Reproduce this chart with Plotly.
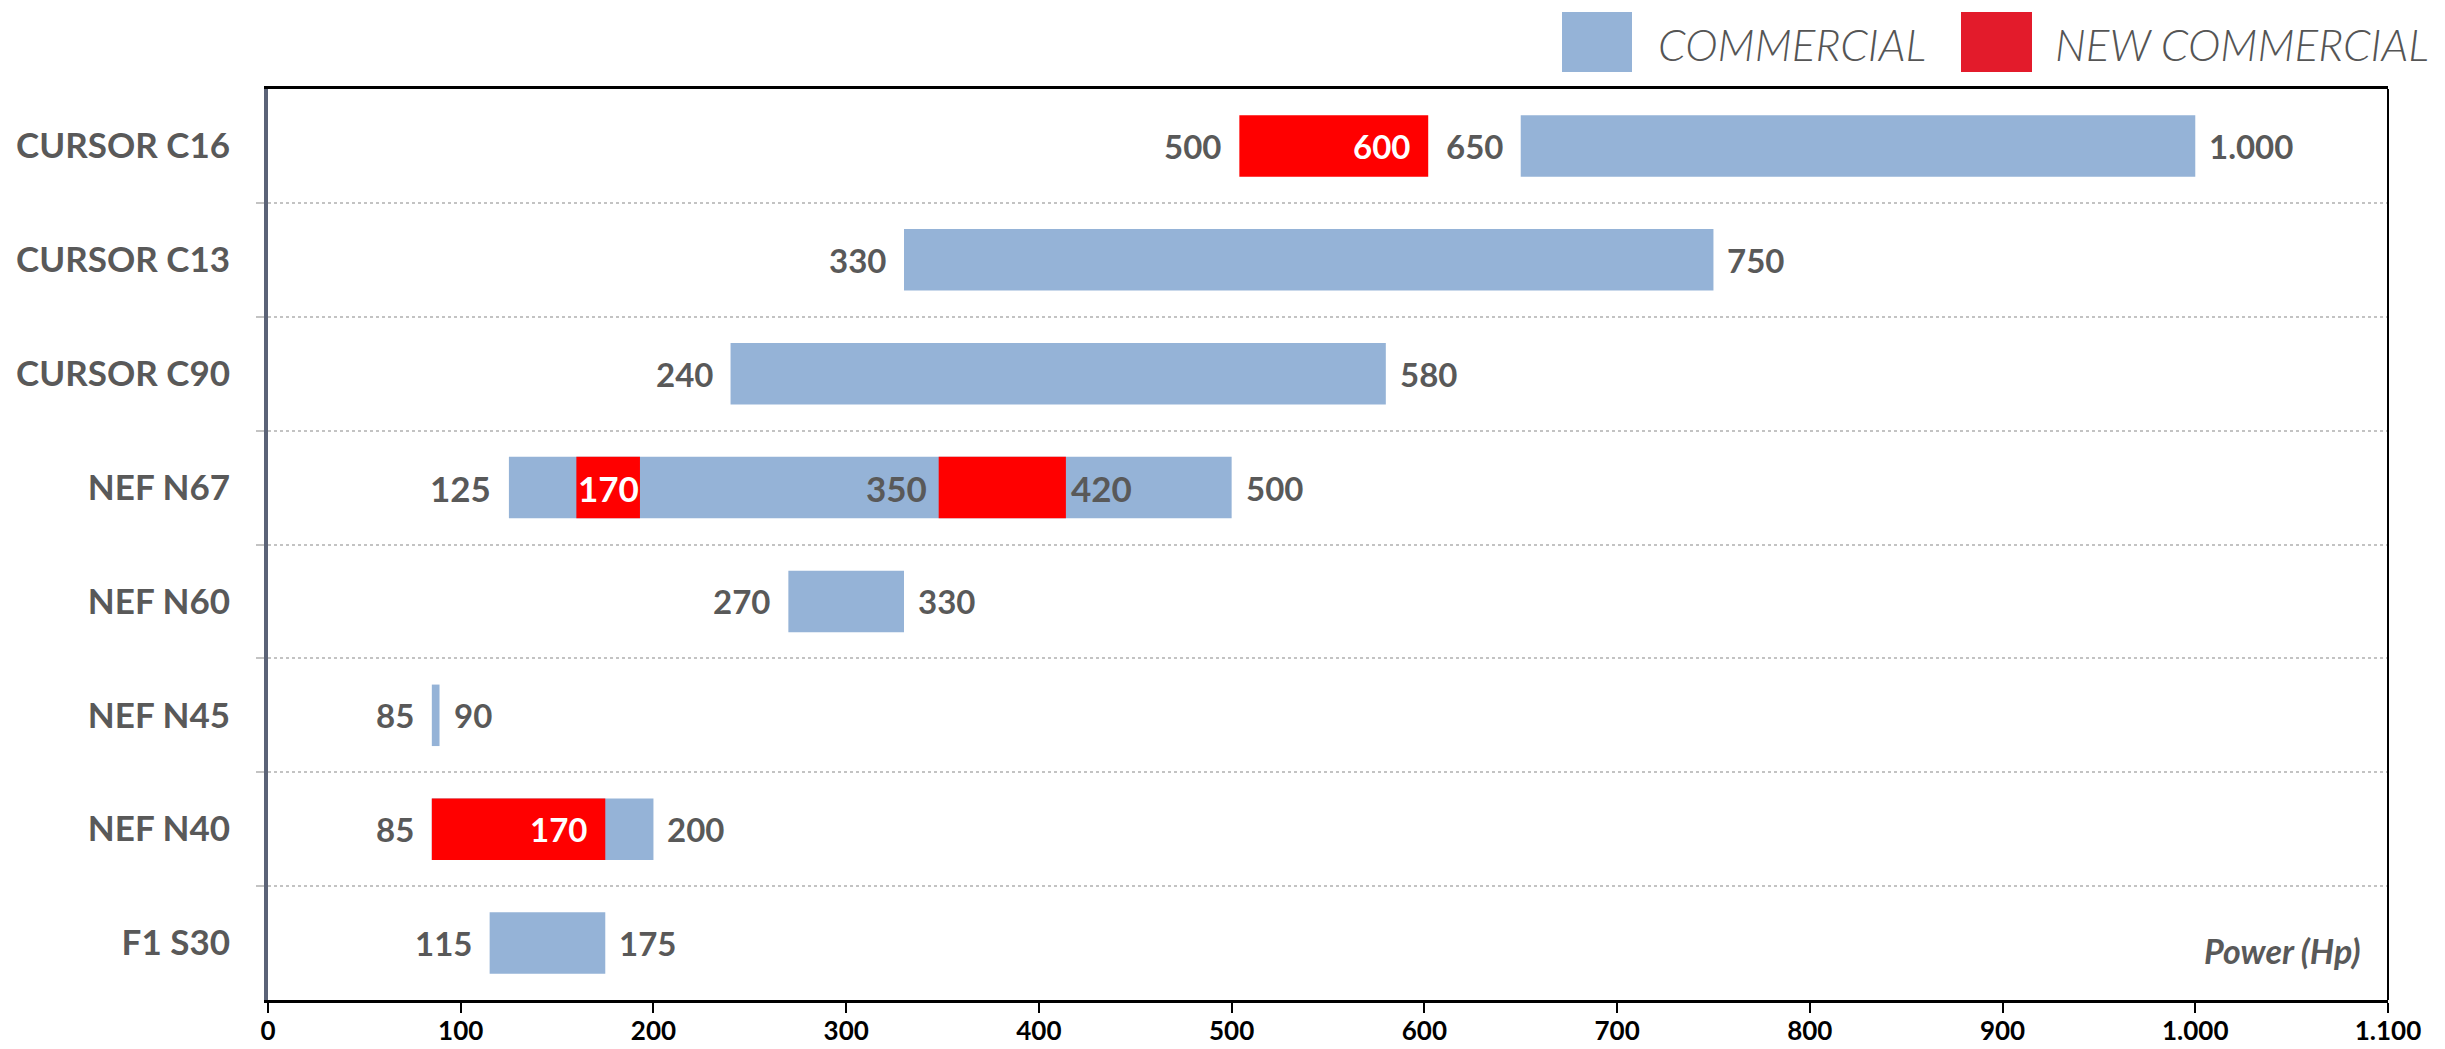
import plotly.graph_objects as go

# ---------------- data ----------------
categories = ["CURSOR C16", "CURSOR C13", "CURSOR C90", "NEF N67",
              "NEF N60", "NEF N45", "NEF N40", "F1 S30"]

# COMMERCIAL ranges (Hp)
com_cat = ["CURSOR C16", "CURSOR C13", "CURSOR C90", "NEF N67",
           "NEF N60", "NEF N45", "NEF N40", "F1 S30"]
com_start = [650, 330, 240, 125, 270, 85, 85, 115]
com_end = [1000, 750, 580, 500, 330, 89, 200, 175]

# NEW COMMERCIAL ranges (Hp)
new_cat = ["CURSOR C16", "NEF N67", "NEF N67", "NEF N40"]
new_start = [504, 160, 348, 85]
new_end = [602, 193, 414, 175]

# value labels
label_cat = ["CURSOR C16", "CURSOR C16", "CURSOR C16", "CURSOR C16",
             "CURSOR C13", "CURSOR C13",
             "CURSOR C90", "CURSOR C90",
             "NEF N67", "NEF N67", "NEF N67", "NEF N67", "NEF N67",
             "NEF N60", "NEF N60",
             "NEF N45", "NEF N45",
             "NEF N40", "NEF N40", "NEF N40",
             "F1 S30", "F1 S30"]
label_val = [504, 602, 650, 1000,
             330, 750,
             240, 580,
             125, 176.5, 348, 414, 500,
             270, 330,
             85, 89,
             85, 175, 200,
             115, 175]
label_txt = ["500", "600", "650", "1.000",
             "330", "750",
             "240", "580",
             "125", "170", "350", "420", "500",
             "270", "330",
             "85", "90",
             "85", "170", "200",
             "115", "175"]
label_side = ["L", "IN", "L", "R",
              "L", "R",
              "L", "R",
              "L", "C", "L", "R", "R",
              "L", "R",
              "L", "R",
              "L", "IN", "R",
              "L", "R"]

x_ticks = list(range(0, 1101, 100))
axis_title = "Power (Hp)"
legend_names = ["COMMERCIAL", "NEW COMMERCIAL"]

# ---------------- styling ----------------
BLUE = "#95b3d7"
RED = "#ff0000"
LEG_RED = "#e31b2b"
GRAY = "#595959"
FONT = "Lato, sans-serif"

# page offset of the figure div (default body margin)
OFF = 8
W, H = 2445 - OFF, 1049 - OFF
# desired plot area in page pixels: x 268..2388, y 89..1000
L, R, T, B = 268 - OFF, 2445 - 2388, 89 - OFF, 1049 - 1000
PW, PH = W - L - R, H - T - B

def px_x(px):
    return (px - OFF - L) / PW

def px_y(py):
    return (H - B - (py - OFF)) / PH

idx = {c: i for i, c in enumerate(categories)}

fig = go.Figure()
fig.add_trace(go.Bar(
    name=legend_names[0], orientation="h",
    y=[idx[c] for c in com_cat],
    x=[e - s for s, e in zip(com_start, com_end)],
    base=com_start, width=0.54,
    marker=dict(color=BLUE, line=dict(width=0)),
    hoverinfo="skip", showlegend=False,
))
fig.add_trace(go.Bar(
    name=legend_names[1], orientation="h",
    y=[idx[c] for c in new_cat],
    x=[e - s for s, e in zip(new_start, new_end)],
    base=new_start, width=0.54,
    marker=dict(color=RED, line=dict(width=0)),
    hoverinfo="skip", showlegend=False,
))

annotations = []
for c, v, t, s in zip(label_cat, label_val, label_txt, label_side):
    big = (c == "NEF N67" and t != "500")
    size = 35 if big else 33
    if s == "L":
        xa, xs, col = "right", (-10 if (big and t == "350") else -16), GRAY
    elif s == "R":
        xa, xs, col = "left", (3 if (big and t == "420") else 12), GRAY
    elif s == "IN":
        xa, xs, col = "right", -16, "#ffffff"
    else:
        xa, xs, col = "center", 0, "#ffffff"
    annotations.append(dict(
        x=v, y=idx[c], xref="x", yref="y", text="<b>%s</b>" % t,
        showarrow=False, xanchor=xa, yanchor="middle", xshift=xs,
        font=dict(family=FONT, size=size, color=col),
    ))

# axis title inside plot
annotations.append(dict(
    x=px_x(2362), y=px_y(950), xref="paper", yref="paper",
    text="<b><i>%s</i></b>" % axis_title, showarrow=False,
    xanchor="right", yanchor="middle",
    font=dict(family=FONT, size=34, color=GRAY),
))

# legend (manual)
shapes = []
leg = [(1562, 1632, 1656, BLUE, legend_names[0]),
       (1961, 2032, 2053, LEG_RED, legend_names[1])]
for x0, x1, tx, col, name in leg:
    shapes.append(dict(type="rect", xref="paper", yref="paper",
                       x0=px_x(x0), x1=px_x(x1), y0=px_y(72), y1=px_y(12),
                       fillcolor=col, line=dict(width=0)))
    annotations.append(dict(
        x=px_x(tx), y=px_y(44), xref="paper", yref="paper",
        text="<i>%s</i>" % name, showarrow=False,
        xanchor="left", yanchor="middle",
        font=dict(family=FONT, size=44, color="#555555", weight=300),
    ))

# right frame line
shapes.append(dict(type="line", xref="paper", yref="paper",
                   x0=1, x1=1, y0=0, y1=1,
                   line=dict(color="#000000", width=2)))

fig.update_layout(
    width=W, height=H,
    margin=dict(l=L, r=R, t=T, b=B, pad=0, autoexpand=False),
    paper_bgcolor="white", plot_bgcolor="white",
    barmode="overlay", separators=",.",
    showlegend=False,
    annotations=annotations, shapes=shapes,
)
fig.update_xaxes(
    automargin=False,
    range=[0, 1100], tickvals=x_ticks, tickformat=",d",
    showgrid=False, zeroline=False,
    showline=True, linecolor="#000000", linewidth=3, mirror=True,
    ticks="outside", ticklen=10, tickwidth=2, tickcolor="#000000",
    tickfont=dict(family=FONT, size=26, color="#000000", weight="bold"),
    ticklabelstandoff=-4,
)
fig.update_yaxes(
    automargin=False,
    range=[len(categories) - 0.5, -0.5],
    tickvals=list(range(len(categories))), ticktext=categories,
    ticks="", showgrid=False, zeroline=False,
    showline=True, linecolor="#5b6377", linewidth=4,
    tickfont=dict(family=FONT, size=35, color=GRAY, weight="bold"),
    ticklabelstandoff=27,
    minor=dict(tickvals=[i + 0.5 for i in range(len(categories) - 1)],
               showgrid=True, gridcolor="#c3c3c3", gridwidth=2, griddash="dot",
               ticks="outside", ticklen=8, tickcolor="#c3c3c3", tickwidth=2),
)

fig.write_html("out.html")
